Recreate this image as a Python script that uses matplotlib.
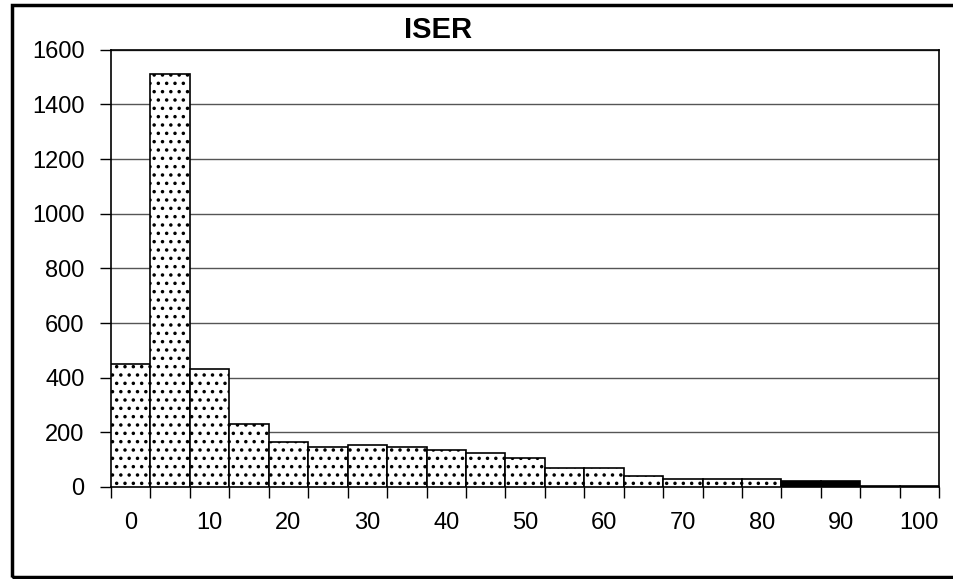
import numpy as np
import matplotlib.pyplot as plt
from matplotlib.patches import Rectangle

plt.rcParams['font.family'] = ['Liberation Sans', 'DejaVu Sans']
plt.rcParams['hatch.linewidth'] = 1.3
plt.rcParams['hatch.color'] = '#333333'

# ISER histogram: classes of width 5
categories = [0, 5, 10, 15, 20, 25, 30, 35, 40, 45, 50,
              55, 60, 65, 70, 75, 80, 85, 90, 95, 100]
counts = [450, 1510, 430, 230, 165, 145, 155, 145, 135, 125, 105,
          70, 70, 40, 30, 30, 30, 20, 20, 5, 3]
tick_labels = ['0', '10', '20', '30', '40', '50', '60', '70', '80', '90', '100']

fig = plt.figure(figsize=(9.54, 5.79), dpi=100)
ax = fig.add_axes([0.1164, 0.159, 0.868, 0.755])

x = np.arange(len(categories))
bars = ax.bar(x, counts, width=1.0, color='white', edgecolor='black',
              linewidth=1.2, hatch='..', zorder=3)
for i, b in enumerate(bars):
    if categories[i] in (85, 90):
        b.set_facecolor('black')

ax.set_xlim(-0.5, len(categories) - 0.5)
ax.set_ylim(0, 1600)
ax.set_yticks(np.arange(0, 1601, 200))
ax.yaxis.grid(True, color='#555555', linewidth=1)
ax.set_axisbelow(True)

ax.set_xticks(x[::2])
ax.set_xticklabels(tick_labels)
ax.set_xticks(np.arange(-0.5, len(categories)), minor=True)
ax.tick_params(axis='x', which='major', length=0, pad=18, labelsize=17)
ax.tick_params(axis='x', which='minor', length=8, width=1, direction='out')
ax.tick_params(axis='y', length=8, width=1, pad=11, labelsize=17)

for s in ax.spines.values():
    s.set_linewidth(1.2)

fig.text(0.459, 0.948, 'ISER', ha='center', va='center',
         fontsize=21, fontweight='bold')

fig.patches.append(Rectangle((0.0126, 0.0035), 1.0, 0.988,
                             transform=fig.transFigure, fill=False,
                             edgecolor='black', linewidth=2.5))

fig.savefig('out.png', dpi=100)
